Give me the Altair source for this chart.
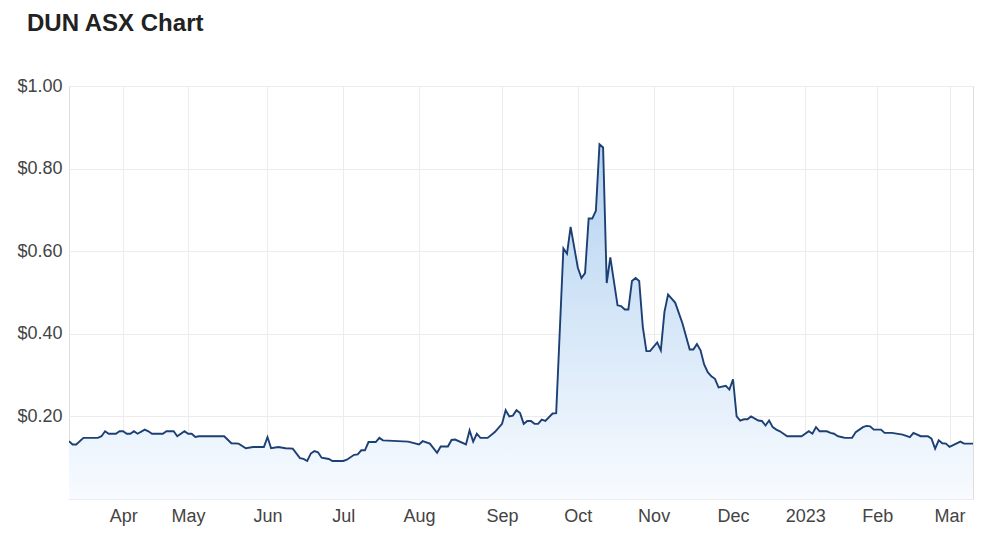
import altair as alt
import pandas as pd

# trading-day index and closing price (AUD)
day = [0, 1, 2, 4, 8, 9, 10, 11, 13, 14, 15, 16, 17, 18, 19, 21, 22, 23, 26, 27,
       29, 30, 32, 33, 34, 35, 36, 43, 45, 47, 49, 51, 54, 55, 56, 58, 60, 62, 64, 65,
       66, 67, 68, 69, 70, 72, 73, 76, 77, 79, 80, 81, 82, 83, 85, 86, 87, 94, 97, 98,
       100, 102, 103, 105, 106, 107, 110, 111, 112, 113, 114, 116, 118, 120, 121, 122, 123, 124, 125, 126,
       127, 128, 129, 130, 131, 132, 134, 135, 137, 138, 139, 141, 142, 143, 144, 145, 146, 147, 148, 149,
       150, 152, 153, 154, 155, 156, 157, 158, 159, 160, 161, 163, 164, 165, 166, 167, 168, 170, 172, 173,
       174, 175, 176, 177, 178, 179, 180, 182, 183, 184, 185, 186, 187, 188, 189, 191, 192, 193, 194, 195,
       196, 197, 199, 203, 205, 206, 207, 208, 210, 211, 212, 213, 214, 215, 217, 218, 220, 221, 222, 223,
       225, 226, 228, 231, 233, 234, 236, 238, 239, 240, 241, 242, 243, 244, 247, 248, 251]
price = [0.140, 0.132, 0.132, 0.148, 0.148, 0.152, 0.164, 0.158, 0.158, 0.164, 0.164, 0.158, 0.158, 0.164, 0.158, 0.168, 0.164, 0.158, 0.158, 0.164,
         0.164, 0.152, 0.164, 0.158, 0.158, 0.150, 0.152, 0.152, 0.135, 0.134, 0.123, 0.126, 0.126, 0.150, 0.123, 0.126, 0.123, 0.122, 0.099, 0.097,
         0.092, 0.110, 0.116, 0.113, 0.100, 0.097, 0.092, 0.092, 0.095, 0.107, 0.108, 0.118, 0.118, 0.138, 0.138, 0.148, 0.142, 0.139, 0.132, 0.140,
         0.134, 0.112, 0.127, 0.127, 0.143, 0.144, 0.132, 0.166, 0.139, 0.158, 0.148, 0.148, 0.162, 0.182, 0.215, 0.200, 0.202, 0.215, 0.208, 0.182,
         0.189, 0.189, 0.182, 0.182, 0.192, 0.189, 0.207, 0.208, 0.607, 0.594, 0.659, 0.560, 0.535, 0.547, 0.679, 0.679, 0.698, 0.859, 0.851, 0.523,
         0.585, 0.469, 0.467, 0.459, 0.459, 0.528, 0.535, 0.528, 0.417, 0.358, 0.358, 0.379, 0.360, 0.453, 0.495, 0.485, 0.475, 0.425, 0.362, 0.362,
         0.375, 0.360, 0.326, 0.307, 0.297, 0.291, 0.270, 0.274, 0.265, 0.290, 0.200, 0.190, 0.193, 0.193, 0.200, 0.190, 0.189, 0.178, 0.190, 0.174,
         0.168, 0.164, 0.152, 0.152, 0.164, 0.158, 0.174, 0.164, 0.164, 0.160, 0.158, 0.152, 0.150, 0.148, 0.148, 0.162, 0.174, 0.177, 0.176, 0.168,
         0.168, 0.160, 0.160, 0.156, 0.150, 0.160, 0.152, 0.152, 0.146, 0.122, 0.142, 0.135, 0.134, 0.126, 0.139, 0.134, 0.134]

# first trading day of each month (index) and its label
month_ticks = [15, 33, 55, 76, 97, 120, 141, 162, 184, 204, 224, 244]
month_labels = ["Apr", "May", "Jun", "Jul", "Aug", "Sep", "Oct", "Nov", "Dec", "2023", "Feb", "Mar"]
price_ticks = [0.0, 0.2, 0.4, 0.6, 0.8, 1.0]

df = pd.DataFrame({"day": day, "price": price})

label_expr = "[" + ",".join(f"'{m}'" for m in month_labels) + "][indexof([" + \
    ",".join(str(t) for t in month_ticks) + "], datum.value)]"

FONT = "Liberation Sans"

x = alt.X("day:Q",
          scale=alt.Scale(domain=[0, 250.5], nice=False, zero=False),
          axis=alt.Axis(values=month_ticks, labelExpr=label_expr, title=None,
                        grid=True, gridColor="#ececec", ticks=False, domain=False,
                        labelPadding=8, labelFontSize=18, labelColor="#444444",
                        labelFont=FONT, labelFlush=False))
y = alt.Y("price:Q",
          scale=alt.Scale(domain=[0, 1], nice=False),
          axis=alt.Axis(values=price_ticks,
                        labelExpr="datum.value == 0 ? '' : '$' + format(datum.value, '.2f')",
                        title=None, grid=True, gridColor="#ececec", ticks=False, domain=False,
                        labelPadding=7, labelFontSize=18, labelColor="#444444",
                        labelFont=FONT))

area = alt.Chart(df).mark_area(
    clip=True,
    color=alt.Gradient(
        gradient="linear",
        stops=[alt.GradientStop(color="#b3d2f0", offset=0),
               alt.GradientStop(color="#f8fbff", offset=1)],
        x1=1, x2=1, y1=0, y2=1),
).encode(x=x, y=y)

line = alt.Chart(df).mark_line(clip=True, color="#1c3f74", strokeWidth=1.9).encode(x=x, y=y)

chart = (area + line).properties(
    width=904,
    height=413,
    autosize=alt.AutoSizeParams(type="none"),
    padding={"left": 61, "top": 78, "right": 19, "bottom": 27},
    title=alt.TitleParams("DUN ASX Chart", anchor="start", frame="group", font=FONT,
                          fontSize=24, fontWeight="bold", color="#222222",
                          dx=-42, offset=41),
).configure_view(stroke="#ebebeb", strokeWidth=1).configure(background="white")

chart.save("out.html", embed_options={"renderer": "svg", "actions": False})
